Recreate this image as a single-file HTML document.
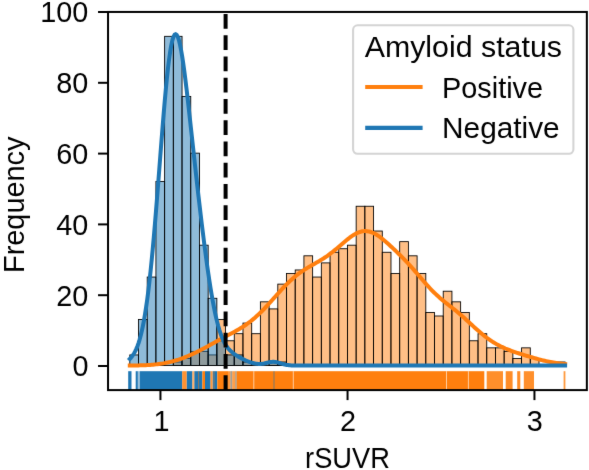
<!DOCTYPE html>
<html><head><meta charset="utf-8"><style>
html,body{margin:0;padding:0;background:#fff;width:589px;height:470px;overflow:hidden;}
svg{display:block;font-family:"Liberation Sans", sans-serif;}
</style></head><body>
<svg width="589" height="470" viewBox="0 0 589 470">
<defs><filter id="bl" filterUnits="userSpaceOnUse" x="-10" y="-10" width="609" height="490" color-interpolation-filters="sRGB"><feConvolveMatrix order="3" kernelMatrix="0.00524 0.06192 0.00524 0.06192 0.73137 0.06192 0.00524 0.06192 0.00524" edgeMode="duplicate" preserveAlpha="true"/></filter></defs>
<g filter="url(#bl)">
<rect x="-10" y="-10" width="609" height="490" fill="#fff"/>
<g fill="#ff7f0e" fill-opacity="0.5" stroke="#000" stroke-width="0.87"><rect x="173.33" y="362.01" width="8.71" height="3.54"/><rect x="182.04" y="358.47" width="8.71" height="7.08"/><rect x="190.74" y="351.39" width="8.71" height="14.16"/><rect x="199.45" y="351.39" width="8.71" height="14.16"/><rect x="208.15" y="354.93" width="8.71" height="10.62"/><rect x="216.86" y="319.53" width="8.71" height="46.02"/><rect x="225.57" y="340.77" width="8.71" height="24.78"/><rect x="234.27" y="333.69" width="8.71" height="31.86"/><rect x="242.98" y="323.07" width="8.71" height="42.48"/><rect x="251.68" y="333.69" width="8.71" height="31.86"/><rect x="260.39" y="301.83" width="8.71" height="63.72"/><rect x="269.10" y="308.91" width="8.71" height="56.64"/><rect x="277.80" y="284.13" width="8.71" height="81.42"/><rect x="286.51" y="273.51" width="8.71" height="92.04"/><rect x="295.21" y="269.97" width="8.71" height="95.58"/><rect x="303.92" y="255.81" width="8.71" height="109.74"/><rect x="312.63" y="277.05" width="8.71" height="88.50"/><rect x="321.33" y="262.89" width="8.71" height="102.66"/><rect x="330.04" y="252.27" width="8.71" height="113.28"/><rect x="338.74" y="248.73" width="8.71" height="116.82"/><rect x="347.45" y="245.19" width="8.71" height="120.36"/><rect x="356.16" y="206.25" width="8.71" height="159.30"/><rect x="364.86" y="206.25" width="8.71" height="159.30"/><rect x="373.57" y="231.03" width="8.71" height="134.52"/><rect x="382.27" y="252.27" width="8.71" height="113.28"/><rect x="390.98" y="273.51" width="8.71" height="92.04"/><rect x="399.69" y="241.65" width="8.71" height="123.90"/><rect x="408.39" y="255.81" width="8.71" height="109.74"/><rect x="417.10" y="273.51" width="8.71" height="92.04"/><rect x="425.80" y="312.45" width="8.71" height="53.10"/><rect x="434.51" y="315.99" width="8.71" height="49.56"/><rect x="443.22" y="291.21" width="8.71" height="74.34"/><rect x="451.92" y="301.83" width="8.71" height="63.72"/><rect x="460.63" y="312.45" width="8.71" height="53.10"/><rect x="469.33" y="340.77" width="8.71" height="24.78"/><rect x="478.04" y="333.69" width="8.71" height="31.86"/><rect x="486.75" y="347.85" width="8.71" height="17.70"/><rect x="495.45" y="347.85" width="8.71" height="17.70"/><rect x="504.16" y="351.39" width="8.71" height="14.16"/><rect x="512.86" y="358.47" width="8.71" height="7.08"/><rect x="521.57" y="347.85" width="8.71" height="17.70"/><rect x="530.28" y="358.47" width="8.71" height="7.08"/><rect x="556.39" y="362.01" width="8.71" height="3.54"/></g>
<g fill="#1f77b4" fill-opacity="0.5" stroke="#000" stroke-width="0.87"><rect x="129.80" y="354.93" width="8.71" height="10.62"/><rect x="138.51" y="319.53" width="8.71" height="46.02"/><rect x="147.21" y="277.05" width="8.71" height="88.50"/><rect x="155.92" y="181.47" width="8.71" height="184.08"/><rect x="164.62" y="36.33" width="8.71" height="329.22"/><rect x="173.33" y="36.33" width="8.71" height="329.22"/><rect x="182.04" y="96.51" width="8.71" height="269.04"/><rect x="190.74" y="153.15" width="8.71" height="212.40"/><rect x="199.45" y="245.19" width="8.71" height="120.36"/><rect x="208.15" y="298.29" width="8.71" height="67.26"/><rect x="216.86" y="340.77" width="8.71" height="24.78"/><rect x="225.57" y="354.93" width="8.71" height="10.62"/><rect x="234.27" y="354.93" width="8.71" height="10.62"/><rect x="242.98" y="362.01" width="8.71" height="3.54"/><rect x="269.10" y="362.01" width="8.71" height="3.54"/><rect x="277.80" y="362.01" width="8.71" height="3.54"/></g>
<path d="M129.80,365.50 L131.26,365.49 L132.71,365.47 L134.17,365.46 L135.62,365.44 L137.08,365.41 L138.54,365.38 L139.99,365.35 L141.45,365.31 L142.90,365.26 L144.36,365.20 L145.81,365.14 L147.27,365.07 L148.73,364.99 L150.18,364.89 L151.64,364.78 L153.09,364.66 L154.55,364.53 L156.01,364.38 L157.46,364.21 L158.92,364.03 L160.37,363.83 L161.83,363.61 L163.28,363.37 L164.74,363.11 L166.20,362.83 L167.65,362.53 L169.11,362.20 L170.56,361.86 L172.02,361.49 L173.48,361.10 L174.93,360.69 L176.39,360.25 L177.84,359.80 L179.30,359.32 L180.75,358.82 L182.21,358.30 L183.67,357.76 L185.12,357.20 L186.58,356.62 L188.03,356.01 L189.49,355.39 L190.95,354.75 L192.40,354.10 L193.86,353.42 L195.31,352.73 L196.77,352.02 L198.23,351.30 L199.68,350.56 L201.14,349.81 L202.59,349.04 L204.05,348.27 L205.50,347.48 L206.96,346.69 L208.42,345.89 L209.87,345.09 L211.33,344.28 L212.78,343.47 L214.24,342.66 L215.70,341.86 L217.15,341.06 L218.61,340.26 L220.06,339.46 L221.52,338.67 L222.97,337.89 L224.43,337.11 L225.89,336.33 L227.34,335.55 L228.80,334.78 L230.25,334.00 L231.71,333.22 L233.17,332.43 L234.62,331.63 L236.08,330.82 L237.53,330.00 L238.99,329.15 L240.44,328.28 L241.90,327.38 L243.36,326.45 L244.81,325.49 L246.27,324.49 L247.72,323.46 L249.18,322.38 L250.64,321.27 L252.09,320.11 L253.55,318.90 L255.00,317.65 L256.46,316.36 L257.92,315.03 L259.37,313.65 L260.83,312.23 L262.28,310.77 L263.74,309.28 L265.19,307.75 L266.65,306.20 L268.11,304.62 L269.56,303.02 L271.02,301.40 L272.47,299.77 L273.93,298.13 L275.39,296.49 L276.84,294.86 L278.30,293.23 L279.75,291.62 L281.21,290.02 L282.66,288.45 L284.12,286.90 L285.58,285.39 L287.03,283.91 L288.49,282.47 L289.94,281.08 L291.40,279.73 L292.86,278.42 L294.31,277.17 L295.77,275.96 L297.22,274.80 L298.68,273.69 L300.13,272.62 L301.59,271.60 L303.05,270.62 L304.50,269.67 L305.96,268.76 L307.41,267.87 L308.87,267.01 L310.33,266.17 L311.78,265.34 L313.24,264.51 L314.69,263.69 L316.15,262.86 L317.61,262.02 L319.06,261.17 L320.52,260.30 L321.97,259.40 L323.43,258.48 L324.88,257.52 L326.34,256.54 L327.80,255.52 L329.25,254.46 L330.71,253.37 L332.16,252.25 L333.62,251.10 L335.08,249.91 L336.53,248.70 L337.99,247.47 L339.44,246.22 L340.90,244.97 L342.35,243.71 L343.81,242.46 L345.27,241.23 L346.72,240.03 L348.18,238.85 L349.63,237.73 L351.09,236.66 L352.55,235.66 L354.00,234.73 L355.46,233.89 L356.91,233.15 L358.37,232.51 L359.82,231.98 L361.28,231.57 L362.74,231.28 L364.19,231.12 L365.65,231.09 L367.10,231.19 L368.56,231.41 L370.02,231.76 L371.47,232.23 L372.93,232.82 L374.38,233.52 L375.84,234.31 L377.29,235.20 L378.75,236.18 L380.21,237.22 L381.66,238.34 L383.12,239.51 L384.57,240.72 L386.03,241.98 L387.49,243.27 L388.94,244.59 L390.40,245.92 L391.85,247.28 L393.31,248.65 L394.77,250.03 L396.22,251.42 L397.68,252.83 L399.13,254.25 L400.59,255.69 L402.04,257.15 L403.50,258.63 L404.96,260.13 L406.41,261.65 L407.87,263.20 L409.32,264.78 L410.78,266.38 L412.24,268.00 L413.69,269.65 L415.15,271.32 L416.60,273.01 L418.06,274.71 L419.51,276.41 L420.97,278.12 L422.43,279.82 L423.88,281.50 L425.34,283.17 L426.79,284.81 L428.25,286.43 L429.71,288.01 L431.16,289.54 L432.62,291.04 L434.07,292.50 L435.53,293.90 L436.98,295.27 L438.44,296.59 L439.90,297.88 L441.35,299.13 L442.81,300.34 L444.26,301.53 L445.72,302.70 L447.18,303.86 L448.63,305.01 L450.09,306.15 L451.54,307.30 L453.00,308.45 L454.46,309.62 L455.91,310.81 L457.37,312.01 L458.82,313.23 L460.28,314.48 L461.73,315.74 L463.19,317.03 L464.65,318.33 L466.10,319.65 L467.56,320.98 L469.01,322.32 L470.47,323.67 L471.93,325.01 L473.38,326.35 L474.84,327.68 L476.29,329.00 L477.75,330.30 L479.20,331.57 L480.66,332.82 L482.12,334.04 L483.57,335.23 L485.03,336.38 L486.48,337.50 L487.94,338.57 L489.40,339.61 L490.85,340.61 L492.31,341.57 L493.76,342.48 L495.22,343.36 L496.67,344.20 L498.13,345.00 L499.59,345.76 L501.04,346.49 L502.50,347.18 L503.95,347.85 L505.41,348.49 L506.87,349.09 L508.32,349.68 L509.78,350.24 L511.23,350.78 L512.69,351.31 L514.15,351.82 L515.60,352.31 L517.06,352.80 L518.51,353.27 L519.97,353.73 L521.42,354.19 L522.88,354.65 L524.34,355.09 L525.79,355.54 L527.25,355.98 L528.70,356.41 L530.16,356.85 L531.62,357.27 L533.07,357.70 L534.53,358.12 L535.98,358.53 L537.44,358.93 L538.89,359.33 L540.35,359.71 L541.81,360.09 L543.26,360.45 L544.72,360.80 L546.17,361.14 L547.63,361.46 L549.09,361.76 L550.54,362.05 L552.00,362.32 L553.45,362.58 L554.91,362.82 L556.36,363.04 L557.82,363.25 L559.28,363.44 L560.73,363.61 L562.19,363.78 L563.64,363.93 L565.10,364.07" fill="none" stroke="#ff7f0e" stroke-width="4" stroke-linecap="square" stroke-linejoin="round"/>
<path d="M129.80,358.88 L130.89,357.75 L131.98,356.45 L133.07,354.94 L134.16,353.18 L135.25,351.16 L136.35,348.82 L137.44,346.14 L138.53,343.07 L139.62,339.56 L140.71,335.58 L141.80,331.07 L142.89,325.99 L143.98,320.30 L145.07,313.95 L146.16,306.91 L147.26,299.16 L148.35,290.66 L149.44,281.42 L150.53,271.42 L151.62,260.69 L152.71,249.25 L153.80,237.16 L154.89,224.47 L155.98,211.26 L157.07,197.63 L158.17,183.69 L159.26,169.58 L160.35,155.42 L161.44,141.38 L162.53,127.60 L163.62,114.26 L164.71,101.50 L165.80,89.49 L166.89,78.38 L167.98,68.30 L169.08,59.37 L170.17,51.70 L171.26,45.36 L172.35,40.41 L173.44,36.89 L174.53,34.80 L175.62,34.13 L176.71,34.84 L177.80,36.86 L178.89,40.13 L179.98,44.55 L181.08,50.02 L182.17,56.42 L183.26,63.63 L184.35,71.54 L185.44,80.04 L186.53,89.01 L187.62,98.34 L188.71,107.95 L189.80,117.75 L190.89,127.67 L191.99,137.65 L193.08,147.63 L194.17,157.58 L195.26,167.46 L196.35,177.25 L197.44,186.92 L198.53,196.45 L199.62,205.84 L200.71,215.07 L201.80,224.13 L202.90,232.99 L203.99,241.65 L205.08,250.08 L206.17,258.26 L207.26,266.17 L208.35,273.78 L209.44,281.08 L210.53,288.03 L211.62,294.62 L212.71,300.83 L213.81,306.65 L214.90,312.06 L215.99,317.06 L217.08,321.64 L218.17,325.82 L219.26,329.61 L220.35,333.01 L221.44,336.05 L222.53,338.75 L223.62,341.14 L224.72,343.25 L225.81,345.11 L226.90,346.74 L227.99,348.18 L229.08,349.45 L230.17,350.59 L231.26,351.60 L232.35,352.53 L233.44,353.38 L234.53,354.16 L235.62,354.90 L236.72,355.60 L237.81,356.27 L238.90,356.91 L239.99,357.53 L241.08,358.13 L242.17,358.70 L243.26,359.26 L244.35,359.79 L245.44,360.30 L246.53,360.78 L247.63,361.24 L248.72,361.67 L249.81,362.06 L250.90,362.43 L251.99,362.76 L253.08,363.06 L254.17,363.32 L255.26,363.54 L256.35,363.71 L257.44,363.85 L258.54,363.93 L259.63,363.96 L260.72,363.93 L261.81,363.85 L262.90,363.72 L263.99,363.54 L265.08,363.31 L266.17,363.06 L267.26,362.79 L268.35,362.52 L269.45,362.28 L270.54,362.08 L271.63,361.93 L272.72,361.85 L273.81,361.86 L274.90,361.94 L275.99,362.10 L277.08,362.33 L278.17,362.62 L279.26,362.93 L280.35,363.27 L281.45,363.61 L282.54,363.94 L283.63,364.25 L284.72,364.52 L285.81,364.75 L286.90,364.95 L287.99,365.10 L289.08,365.23 L290.17,365.32 L291.26,365.39 L292.36,365.44 L293.45,365.48 L294.54,365.51 L295.63,365.52 L296.72,365.53 L297.81,365.54 L298.90,365.54 L299.99,365.55 L301.08,365.55 L302.17,365.55 L303.27,365.55 L304.36,365.55 L305.45,365.55 L306.54,365.55 L307.63,365.55 L308.72,365.55 L309.81,365.55 L310.90,365.55 L311.99,365.55 L313.08,365.55 L314.18,365.55 L315.27,365.55 L316.36,365.55 L317.45,365.55 L318.54,365.55 L319.63,365.55 L320.72,365.55 L321.81,365.55 L322.90,365.55 L323.99,365.55 L325.08,365.55 L326.18,365.55 L327.27,365.55 L328.36,365.55 L329.45,365.55 L330.54,365.55 L331.63,365.55 L332.72,365.55 L333.81,365.55 L334.90,365.55 L335.99,365.55 L337.09,365.55 L338.18,365.55 L339.27,365.55 L340.36,365.55 L341.45,365.55 L342.54,365.55 L343.63,365.55 L344.72,365.55 L345.81,365.55 L346.90,365.55 L348.00,365.55 L349.09,365.55 L350.18,365.55 L351.27,365.55 L352.36,365.55 L353.45,365.55 L354.54,365.55 L355.63,365.55 L356.72,365.55 L357.81,365.55 L358.91,365.55 L360.00,365.55 L361.09,365.55 L362.18,365.55 L363.27,365.55 L364.36,365.55 L365.45,365.55 L366.54,365.55 L367.63,365.55 L368.72,365.55 L369.82,365.55 L370.91,365.55 L372.00,365.55 L373.09,365.55 L374.18,365.55 L375.27,365.55 L376.36,365.55 L377.45,365.55 L378.54,365.55 L379.63,365.55 L380.72,365.55 L381.82,365.55 L382.91,365.55 L384.00,365.55 L385.09,365.55 L386.18,365.55 L387.27,365.55 L388.36,365.55 L389.45,365.55 L390.54,365.55 L391.63,365.55 L392.73,365.55 L393.82,365.55 L394.91,365.55 L396.00,365.55 L397.09,365.55 L398.18,365.55 L399.27,365.55 L400.36,365.55 L401.45,365.55 L402.54,365.55 L403.64,365.55 L404.73,365.55 L405.82,365.55 L406.91,365.55 L408.00,365.55 L409.09,365.55 L410.18,365.55 L411.27,365.55 L412.36,365.55 L413.45,365.55 L414.55,365.55 L415.64,365.55 L416.73,365.55 L417.82,365.55 L418.91,365.55 L420.00,365.55 L421.09,365.55 L422.18,365.55 L423.27,365.55 L424.36,365.55 L425.45,365.55 L426.55,365.55 L427.64,365.55 L428.73,365.55 L429.82,365.55 L430.91,365.55 L432.00,365.55 L433.09,365.55 L434.18,365.55 L435.27,365.55 L436.36,365.55 L437.46,365.55 L438.55,365.55 L439.64,365.55 L440.73,365.55 L441.82,365.55 L442.91,365.55 L444.00,365.55 L445.09,365.55 L446.18,365.55 L447.27,365.55 L448.37,365.55 L449.46,365.55 L450.55,365.55 L451.64,365.55 L452.73,365.55 L453.82,365.55 L454.91,365.55 L456.00,365.55 L457.09,365.55 L458.18,365.55 L459.28,365.55 L460.37,365.55 L461.46,365.55 L462.55,365.55 L463.64,365.55 L464.73,365.55 L465.82,365.55 L466.91,365.55 L468.00,365.55 L469.09,365.55 L470.18,365.55 L471.28,365.55 L472.37,365.55 L473.46,365.55 L474.55,365.55 L475.64,365.55 L476.73,365.55 L477.82,365.55 L478.91,365.55 L480.00,365.55 L481.09,365.55 L482.19,365.55 L483.28,365.55 L484.37,365.55 L485.46,365.55 L486.55,365.55 L487.64,365.55 L488.73,365.55 L489.82,365.55 L490.91,365.55 L492.00,365.55 L493.10,365.55 L494.19,365.55 L495.28,365.55 L496.37,365.55 L497.46,365.55 L498.55,365.55 L499.64,365.55 L500.73,365.55 L501.82,365.55 L502.91,365.55 L504.01,365.55 L505.10,365.55 L506.19,365.55 L507.28,365.55 L508.37,365.55 L509.46,365.55 L510.55,365.55 L511.64,365.55 L512.73,365.55 L513.82,365.55 L514.92,365.55 L516.01,365.55 L517.10,365.55 L518.19,365.55 L519.28,365.55 L520.37,365.55 L521.46,365.55 L522.55,365.55 L523.64,365.55 L524.73,365.55 L525.82,365.55 L526.92,365.55 L528.01,365.55 L529.10,365.55 L530.19,365.55 L531.28,365.55 L532.37,365.55 L533.46,365.55 L534.55,365.55 L535.64,365.55 L536.73,365.55 L537.83,365.55 L538.92,365.55 L540.01,365.55 L541.10,365.55 L542.19,365.55 L543.28,365.55 L544.37,365.55 L545.46,365.55 L546.55,365.55 L547.64,365.55 L548.74,365.55 L549.83,365.55 L550.92,365.55 L552.01,365.55 L553.10,365.55 L554.19,365.55 L555.28,365.55 L556.37,365.55 L557.46,365.55 L558.55,365.55 L559.65,365.55 L560.74,365.55 L561.83,365.55 L562.92,365.55 L564.01,365.55 L565.10,365.55" fill="none" stroke="#1f77b4" stroke-width="4" stroke-linecap="square" stroke-linejoin="round"/>
<rect x="128.20" y="371.19" width="3.30" height="18.91" fill="#1f77b4" fill-opacity="1.00"/><rect x="135.70" y="371.19" width="2.10" height="18.91" fill="#1f77b4" fill-opacity="1.00"/><rect x="137.80" y="371.19" width="2.00" height="18.91" fill="#1f77b4" fill-opacity="0.45"/><rect x="139.80" y="371.19" width="42.40" height="18.91" fill="#1f77b4" fill-opacity="1.00"/><rect x="186.60" y="371.19" width="5.70" height="18.91" fill="#1f77b4" fill-opacity="1.00"/><rect x="194.30" y="371.19" width="8.10" height="18.91" fill="#1f77b4" fill-opacity="1.00"/><rect x="205.00" y="371.19" width="5.50" height="18.91" fill="#1f77b4" fill-opacity="1.00"/><rect x="212.60" y="371.19" width="4.70" height="18.91" fill="#1f77b4" fill-opacity="1.00"/><rect x="182.20" y="371.19" width="4.40" height="18.91" fill="#ff7f0e" fill-opacity="0.85"/><rect x="198.10" y="371.19" width="1.00" height="18.91" fill="#ff7f0e" fill-opacity="0.50"/><rect x="213.50" y="371.19" width="1.00" height="18.91" fill="#ff7f0e" fill-opacity="0.50"/><rect x="192.30" y="371.19" width="2.00" height="18.91" fill="#ff7f0e" fill-opacity="0.60"/><rect x="202.40" y="371.19" width="2.60" height="18.91" fill="#ff7f0e" fill-opacity="1.00"/><rect x="210.50" y="371.19" width="2.10" height="18.91" fill="#ff7f0e" fill-opacity="0.80"/><rect x="217.30" y="371.19" width="10.70" height="18.91" fill="#ff7f0e" fill-opacity="1.00"/><rect x="228.00" y="371.19" width="2.50" height="18.91" fill="#ff7f0e" fill-opacity="0.80"/><rect x="230.50" y="371.19" width="1.70" height="18.91" fill="#1f77b4" fill-opacity="0.60"/><rect x="230.50" y="371.19" width="1.70" height="18.91" fill="#ff7f0e" fill-opacity="0.30"/><rect x="232.20" y="371.19" width="3.00" height="18.91" fill="#ff7f0e" fill-opacity="0.75"/><rect x="235.20" y="371.19" width="1.60" height="18.91" fill="#ff7f0e" fill-opacity="0.60"/><rect x="235.20" y="371.19" width="1.60" height="18.91" fill="#1f77b4" fill-opacity="0.35"/><rect x="236.80" y="371.19" width="247.50" height="18.91" fill="#ff7f0e" fill-opacity="1.00"/><rect x="486.70" y="371.19" width="16.30" height="18.91" fill="#ff7f0e" fill-opacity="0.88"/><rect x="505.70" y="371.19" width="6.90" height="18.91" fill="#ff7f0e" fill-opacity="0.90"/><rect x="517.20" y="371.19" width="3.10" height="18.91" fill="#ff7f0e" fill-opacity="0.90"/><rect x="523.80" y="371.19" width="10.20" height="18.91" fill="#ff7f0e" fill-opacity="0.88"/><rect x="563.60" y="371.19" width="1.80" height="18.91" fill="#ff7f0e" fill-opacity="0.80"/><rect x="273.00" y="371.19" width="2.00" height="18.91" fill="#1f77b4" fill-opacity="0.30"/><rect x="253.30" y="371.19" width="1.00" height="18.91" fill="#fff" fill-opacity="0.60"/><rect x="292.80" y="371.19" width="1.00" height="18.91" fill="#fff" fill-opacity="0.60"/><rect x="446.00" y="371.19" width="1.00" height="18.91" fill="#fff" fill-opacity="0.60"/><rect x="467.90" y="371.19" width="1.00" height="18.91" fill="#fff" fill-opacity="0.60"/>
<line x1="225.60" y1="390.10" x2="225.60" y2="11.95" stroke="#000" stroke-width="4" stroke-dasharray="14.84 6.41"/>
<rect x="108.04" y="11.95" width="478.81" height="378.15" fill="none" stroke="#000" stroke-width="2" stroke-linejoin="miter"/>
<g stroke="#000" stroke-width="2"><line x1="98.04" y1="366.00" x2="108.04" y2="366.00"/><line x1="98.04" y1="295.20" x2="108.04" y2="295.20"/><line x1="98.04" y1="224.40" x2="108.04" y2="224.40"/><line x1="98.04" y1="153.60" x2="108.04" y2="153.60"/><line x1="98.04" y1="82.80" x2="108.04" y2="82.80"/><line x1="98.04" y1="12.00" x2="108.04" y2="12.00"/><line x1="160.45" y1="390.10" x2="160.45" y2="400.10"/><line x1="347.55" y1="390.10" x2="347.55" y2="400.10"/><line x1="534.45" y1="390.10" x2="534.45" y2="400.10"/></g>
<g font-family="&quot;Liberation Sans&quot;, sans-serif" fill="#000"><text x="88.4" y="376.40" text-anchor="end" font-size="28.8">0</text><text x="88.4" y="305.60" text-anchor="end" font-size="28.8">20</text><text x="88.4" y="234.80" text-anchor="end" font-size="28.8">40</text><text x="88.4" y="164.00" text-anchor="end" font-size="28.8">60</text><text x="88.4" y="93.20" text-anchor="end" font-size="28.8">80</text><text x="88.4" y="22.40" text-anchor="end" font-size="28.8">100</text><text x="161.40" y="430.8" text-anchor="middle" font-size="28.8">1</text><text x="347.95" y="430.8" text-anchor="middle" font-size="28.8">2</text><text x="534.75" y="430.8" text-anchor="middle" font-size="28.8">3</text><text x="347.5" y="468" text-anchor="middle" font-size="28.8" textLength="84.8" lengthAdjust="spacingAndGlyphs">rSUVR</text><text transform="translate(23.5,273) rotate(-90)" x="0" y="0" font-size="28.8" textLength="136.5" lengthAdjust="spacingAndGlyphs">Frequency</text></g>
<g font-family="&quot;Liberation Sans&quot;, sans-serif" fill="#000"><rect x="353.1" y="25.3" width="220.3" height="128.5" rx="4.5" ry="4.5" fill="#fff" fill-opacity="0.8" stroke="#d4d4d4" stroke-width="2.1"/><line x1="365.2" y1="87" x2="422.6" y2="87" stroke="#ff7f0e" stroke-width="4.2"/><line x1="365.2" y1="127.8" x2="422.6" y2="127.8" stroke="#1f77b4" stroke-width="4.2"/><text x="364.7" y="57" font-size="28.8" textLength="197.3" lengthAdjust="spacingAndGlyphs">Amyloid status</text><text x="442.1" y="97.6" font-size="28.8" textLength="101.0" lengthAdjust="spacingAndGlyphs">Positive</text><text x="442.1" y="137.9" font-size="28.8" textLength="117.6" lengthAdjust="spacingAndGlyphs">Negative</text></g>
</g>
</svg>
</body></html>
